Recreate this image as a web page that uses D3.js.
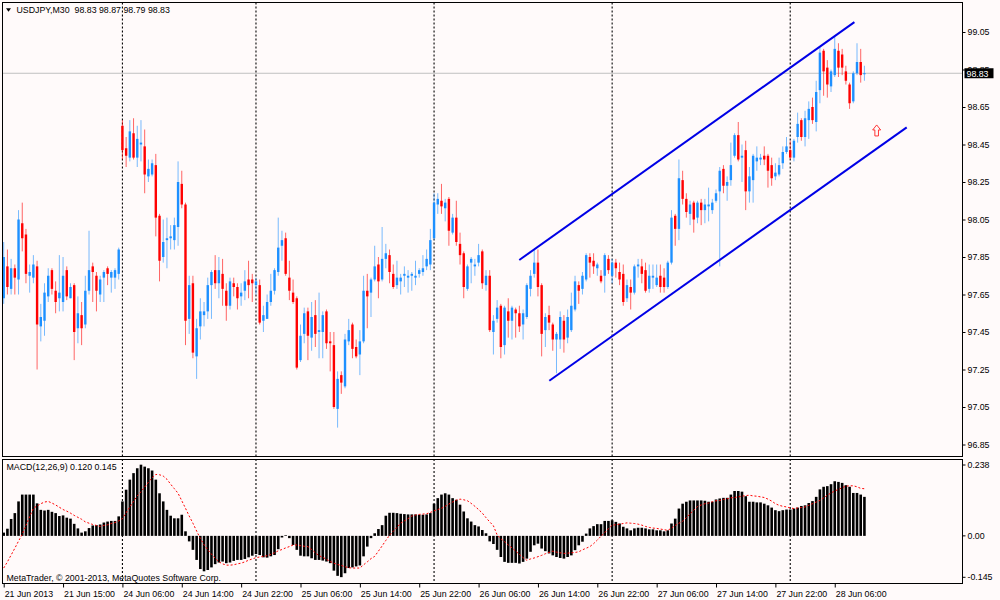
<!DOCTYPE html>
<html><head><meta charset="utf-8">
<script src="https://cdn.jsdelivr.net/npm/d3@7"></script>
<style>
html,body{margin:0;padding:0;background:#fffafa;}
svg{display:block;}
text{font-family:"Liberation Sans",Arial,sans-serif;font-size:8.8px;fill:#000;}
</style></head><body>
<svg id="c" width="1000" height="600"></svg>
<script>
// ---- data: [open, high, low, close] per M30 bar ----
const candles = [
[97.63,97.93,97.60,97.85],[97.80,97.89,97.65,97.69],[97.68,97.84,97.65,97.79],[97.79,97.81,97.65,97.74],
[97.73,98.10,97.65,98.05],[98.03,98.14,97.88,97.95],[97.97,98.00,97.71,97.76],[97.75,97.81,97.66,97.77],
[97.74,97.86,97.71,97.81],[97.80,97.83,97.25,97.49],[97.48,97.60,97.40,97.53],[97.51,97.71,97.43,97.66],
[97.64,97.79,97.61,97.75],[97.78,97.79,97.65,97.68],[97.67,97.72,97.55,97.61],[97.63,97.86,97.56,97.66],
[97.61,97.85,97.56,97.75],[97.78,97.80,97.62,97.64],[97.63,97.71,97.63,97.69],[97.70,97.71,97.30,97.45],
[97.47,97.64,97.39,97.55],[97.54,97.61,97.38,97.47],[97.49,97.75,97.47,97.67],[97.67,97.99,97.65,97.78],
[97.80,97.82,97.61,97.77],[97.75,97.77,97.56,97.67],[97.65,97.75,97.61,97.73],[97.74,97.78,97.61,97.77],
[97.79,97.80,97.70,97.76],[97.74,97.78,97.66,97.77],[97.74,97.79,97.68,97.78],[97.76,97.90,97.73,97.89],
[98.55,98.58,98.37,98.42],[98.43,98.49,98.33,98.39],[98.38,98.58,98.36,98.52],[98.51,98.59,98.37,98.38],
[98.38,98.55,98.33,98.48],[98.45,98.58,98.36,98.46],[98.44,98.53,98.19,98.29],[98.28,98.37,98.25,98.32],
[98.29,98.37,98.28,98.35],[98.34,98.40,97.96,98.06],[98.07,98.08,97.72,97.83],[97.85,98.05,97.82,97.93],
[97.94,98.06,97.79,97.95],[97.95,98.02,97.89,97.96],[97.94,98.06,97.89,98.02],[98.01,98.36,97.91,98.25],
[98.24,98.31,98.11,98.13],[98.13,98.14,97.38,97.51],[97.52,97.75,97.44,97.70],[97.71,97.75,97.31,97.34],
[97.32,97.52,97.20,97.47],[97.48,97.63,97.41,97.56],[97.54,97.61,97.48,97.56],[97.56,97.74,97.52,97.70],
[97.70,97.78,97.52,97.77],[97.78,97.86,97.68,97.71],[97.71,97.85,97.63,97.78],[97.76,97.84,97.59,97.68],
[97.67,97.71,97.51,97.59],[97.59,97.74,97.57,97.72],[97.71,97.74,97.64,97.69],[97.69,97.71,97.57,97.63],
[97.64,97.71,97.59,97.66],[97.67,97.78,97.62,97.72],[97.73,97.83,97.63,97.70],[97.73,97.76,97.61,97.71],
[97.70,97.74,97.65,97.72],[97.70,97.73,97.49,97.50],[97.51,97.59,97.45,97.54],[97.52,97.65,97.52,97.61],
[97.61,97.76,97.59,97.67],[97.67,97.79,97.65,97.78],[97.77,98.06,97.75,97.90],[97.91,97.99,97.83,97.94],
[97.95,97.98,97.75,97.76],[97.74,97.83,97.62,97.67],[97.66,97.73,97.60,97.61],[97.63,97.64,97.25,97.26],
[97.30,97.49,97.29,97.43],[97.44,97.58,97.39,97.55],[97.56,97.58,97.30,97.43],[97.42,97.61,97.35,97.53],
[97.54,97.62,97.37,97.44],[97.45,97.66,97.31,97.46],[97.45,97.56,97.31,97.54],[97.56,97.57,97.36,97.39],
[97.40,97.45,97.24,97.39],[97.38,97.45,97.04,97.05],[97.04,97.24,96.94,97.20],[97.22,97.24,97.12,97.18],
[97.16,97.44,97.15,97.41],[97.40,97.52,97.38,97.46],[97.49,97.50,97.31,97.36],[97.37,97.41,97.31,97.32],
[97.33,97.46,97.22,97.40],[97.40,97.75,97.39,97.67],[97.67,97.76,97.47,97.64],[97.66,97.74,97.53,97.73],
[97.73,97.91,97.72,97.80],[97.81,97.85,97.63,97.72],[97.73,98.01,97.72,97.84],[97.84,97.92,97.79,97.87],
[97.86,97.89,97.71,97.77],[97.76,97.81,97.68,97.69],[97.70,97.83,97.68,97.74],[97.72,97.76,97.65,97.74],
[97.75,97.80,97.69,97.76],[97.74,97.78,97.66,97.75],[97.75,97.77,97.67,97.76],[97.74,97.83,97.70,97.75],
[97.76,97.79,97.74,97.78],[97.77,97.86,97.75,97.79],[97.80,97.89,97.78,97.84],[97.81,98.00,97.78,97.94],
[97.95,98.19,97.94,98.14],[98.13,98.19,98.08,98.16],[98.15,98.24,98.08,98.12],[98.11,98.16,98.04,98.14],
[98.16,98.17,97.91,97.99],[97.98,98.08,97.97,98.06],[98.06,98.15,97.91,97.93],[97.92,97.98,97.81,97.86],
[97.87,97.88,97.63,97.69],[97.68,97.81,97.67,97.80],[97.82,97.85,97.71,97.84],[97.80,97.84,97.75,97.81],
[97.82,97.92,97.80,97.86],[97.88,97.89,97.68,97.71],[97.70,97.78,97.67,97.75],[97.75,97.78,97.45,97.46],
[97.45,97.54,97.33,97.51],[97.52,97.62,97.50,97.58],[97.59,97.60,97.31,97.37],[97.38,97.59,97.33,97.58],
[97.56,97.63,97.42,97.51],[97.51,97.59,97.41,97.58],[97.57,97.58,97.42,97.55],[97.55,97.59,97.45,97.48],
[97.49,97.57,97.41,97.55],[97.53,97.71,97.52,97.70],[97.68,97.78,97.64,97.75],[97.76,97.89,97.74,97.82],
[97.82,97.89,97.64,97.69],[97.70,97.71,97.32,97.44],[97.46,97.55,97.37,97.53],[97.54,97.59,97.46,97.50],
[97.49,97.50,97.35,97.41],[97.41,97.45,97.23,97.44],[97.41,97.56,97.36,97.53],[97.51,97.54,97.34,97.41],
[97.42,97.57,97.39,97.53],[97.46,97.66,97.45,97.59],[97.57,97.75,97.56,97.72],[97.70,97.72,97.60,97.67],
[97.68,97.77,97.65,97.75],[97.73,97.87,97.72,97.86],[97.85,97.87,97.74,97.82],[97.83,97.87,97.76,97.80],
[97.79,97.82,97.75,97.81],[97.75,97.78,97.71,97.72],[97.75,97.87,97.66,97.86],[97.84,97.86,97.76,97.78],
[97.75,97.84,97.71,97.82],[97.82,97.84,97.74,97.79],[97.77,97.82,97.70,97.73],[97.76,97.81,97.59,97.61],
[97.63,97.73,97.61,97.70],[97.69,97.73,97.57,97.66],[97.66,97.81,97.65,97.80],[97.80,97.84,97.74,97.81],
[97.80,97.84,97.71,97.76],[97.78,97.82,97.66,97.67],[97.68,97.81,97.66,97.75],[97.74,97.81,97.68,97.75],
[97.70,97.81,97.69,97.74],[97.75,97.81,97.66,97.69],[97.74,97.79,97.66,97.69],[97.69,97.83,97.68,97.82],
[97.82,98.10,97.81,98.06],[98.07,98.08,97.91,98.00],[98.00,98.37,97.94,98.27],[98.26,98.31,98.13,98.16],
[98.16,98.19,98.06,98.09],[98.08,98.15,98.02,98.13],[98.14,98.15,97.98,98.05],[98.06,98.15,98.03,98.14],
[98.14,98.16,98.02,98.10],[98.10,98.16,98.03,98.13],[98.12,98.22,98.04,98.13],[98.10,98.16,98.08,98.14],
[98.15,98.21,98.14,98.19],[98.20,98.33,97.80,98.31],[98.32,98.34,98.19,98.23],[98.23,98.28,98.15,98.25],
[98.26,98.46,98.23,98.34],[98.39,98.51,98.38,98.50],[98.50,98.57,98.36,98.37],[98.38,98.45,98.25,98.39],
[98.42,98.47,98.10,98.20],[98.20,98.33,98.14,98.28],[98.26,98.40,98.14,98.39],[98.36,98.44,98.31,98.38],
[98.37,98.40,98.34,98.38],[98.39,98.44,98.34,98.37],[98.39,98.40,98.22,98.31],[98.34,98.38,98.23,98.27],
[98.28,98.35,98.26,98.30],[98.29,98.38,98.28,98.34],[98.35,98.44,98.32,98.41],[98.41,98.49,98.40,98.44],
[98.42,98.47,98.37,98.38],[98.38,98.48,98.36,98.47],[98.49,98.62,98.46,98.56],[98.58,98.59,98.47,98.49],
[98.49,98.63,98.44,98.59],[98.58,98.68,98.48,98.64],[98.65,98.70,98.56,98.58],[98.57,98.79,98.52,98.73],
[98.74,98.97,98.67,98.94],[98.95,98.96,98.71,98.84],[98.86,98.90,98.70,98.77],[98.76,98.85,98.73,98.84],
[98.82,99.03,98.81,98.96],[98.95,98.99,98.81,98.86],[98.93,98.96,98.82,98.86],[98.84,98.87,98.77,98.79],
[98.77,98.78,98.64,98.67],[98.68,98.84,98.67,98.83],[98.83,98.99,98.82,98.89],[98.89,98.96,98.78,98.82],
[98.83,98.87,98.79,98.83]
];

const macdHist = [
0.010,0.022,0.052,0.070,0.106,0.127,0.127,0.127,0.127,0.100,0.080,0.078,0.080,0.074,0.070,0.061,
0.063,0.056,0.053,0.037,0.023,0.010,0.014,0.024,0.032,0.033,0.035,0.041,0.044,0.046,0.046,0.060,
0.106,0.142,0.173,0.193,0.208,0.219,0.213,0.208,0.201,0.173,0.131,0.106,0.080,0.062,0.054,0.054,
0.065,0.014,-0.017,-0.043,-0.074,-0.102,-0.109,-0.105,-0.097,-0.087,-0.082,-0.079,-0.084,-0.082,-0.077,-0.074,
-0.074,-0.071,-0.066,-0.061,-0.056,-0.059,-0.066,-0.067,-0.063,-0.059,-0.041,-0.005,0.002,-0.007,-0.028,-0.043,
-0.061,-0.063,-0.063,-0.069,-0.074,-0.074,-0.076,-0.079,-0.084,-0.107,-0.123,-0.127,-0.115,-0.099,-0.097,-0.094,
-0.091,-0.063,-0.033,-0.007,0.008,0.021,0.033,0.062,0.071,0.071,0.070,0.068,0.067,0.066,0.066,0.066,
0.065,0.065,0.066,0.070,0.099,0.116,0.127,0.131,0.127,0.116,0.111,0.096,0.075,0.054,0.044,0.033,
0.029,0.018,0.008,-0.017,-0.025,-0.043,-0.065,-0.080,-0.083,-0.083,-0.083,-0.085,-0.080,-0.070,-0.049,-0.029,
-0.024,-0.039,-0.047,-0.054,-0.060,-0.065,-0.068,-0.070,-0.065,-0.060,-0.044,-0.029,-0.018,0.007,0.023,0.030,
0.036,0.036,0.046,0.046,0.048,0.043,0.038,0.028,0.023,0.017,0.023,0.025,0.025,0.023,0.020,0.020,
0.017,0.017,0.014,0.017,0.038,0.053,0.084,0.099,0.105,0.109,0.109,0.109,0.109,0.108,0.105,0.105,
0.112,0.115,0.117,0.117,0.127,0.138,0.138,0.136,0.122,0.105,0.105,0.103,0.103,0.099,0.094,0.087,
0.079,0.076,0.079,0.081,0.081,0.084,0.087,0.092,0.094,0.101,0.107,0.120,0.143,0.151,0.153,0.159,
0.168,0.166,0.163,0.156,0.151,0.132,0.132,0.127,0.120
];

const macdSignal = [
-0.099,-0.080,-0.059,-0.038,-0.016,0.005,0.032,0.059,0.085,0.092,0.099,0.104,0.106,0.101,0.095,0.088,
0.081,0.076,0.070,0.063,0.057,0.051,0.043,0.039,0.035,0.032,0.029,0.032,0.034,0.038,0.041,0.046,
0.053,0.071,0.089,0.106,0.123,0.136,0.150,0.165,0.179,0.189,0.188,0.184,0.174,0.159,0.145,0.131,
0.108,0.085,0.061,0.039,0.015,-0.008,-0.027,-0.043,-0.056,-0.069,-0.080,-0.086,-0.090,-0.090,-0.089,-0.086,
-0.084,-0.080,-0.075,-0.071,-0.067,-0.065,-0.063,-0.061,-0.057,-0.052,-0.046,-0.042,-0.037,-0.033,-0.028,-0.028,
-0.030,-0.032,-0.033,-0.042,-0.052,-0.061,-0.066,-0.072,-0.079,-0.084,-0.088,-0.091,-0.095,-0.098,-0.099,-0.099,
-0.099,-0.089,-0.080,-0.070,-0.063,-0.047,-0.031,-0.014,0.002,0.014,0.026,0.039,0.046,0.053,0.061,0.064,
0.066,0.067,0.068,0.072,0.077,0.081,0.085,0.091,0.098,0.104,0.110,0.113,0.111,0.108,0.100,0.091,
0.081,0.070,0.056,0.043,0.031,0.003,-0.009,-0.018,-0.028,-0.037,-0.047,-0.057,-0.067,-0.075,-0.071,-0.068,
-0.064,-0.060,-0.055,-0.051,-0.047,-0.050,-0.052,-0.054,-0.053,-0.052,-0.051,-0.049,-0.043,-0.038,-0.033,-0.024,
-0.013,-0.001,0.010,0.022,0.033,0.034,0.036,0.038,0.040,0.039,0.038,0.036,0.033,0.029,0.026,0.024,
0.023,0.021,0.019,0.017,0.024,0.032,0.039,0.045,0.056,0.068,0.079,0.090,0.095,0.099,0.101,0.105,
0.108,0.109,0.112,0.114,0.117,0.118,0.120,0.122,0.124,0.125,0.123,0.122,0.120,0.118,0.113,0.107,
0.099,0.094,0.091,0.089,0.086,0.084,0.086,0.087,0.089,0.094,0.099,0.104,0.109,0.117,0.125,0.132,
0.138,0.143,0.148,0.153,0.154,0.154,0.151,0.146,0.145
];

const timeLabels = ["21 Jun 2013","21 Jun 15:00","24 Jun 06:00","24 Jun 14:00","24 Jun 22:00","25 Jun 06:00",
  "25 Jun 14:00","25 Jun 22:00","26 Jun 06:00","26 Jun 14:00","26 Jun 22:00","27 Jun 06:00","27 Jun 14:00",
  "27 Jun 22:00","28 Jun 06:00"];
const timeLabelBars = [0,16,32,48,64,80,96,112,128,144,160,176,192,208,224];
const separatorBars = [32,68,116,164,212];
const priceTicks = [99.05,98.85,98.65,98.45,98.25,98.05,97.85,97.65,97.45,97.25,97.05,96.85];
const macdTicks = [0.238,0.00,-0.145];
const macdTickLabels = ["0.238","0.00","-0.145"];
// channel lines: [bar, price, bar, price]
const channelUpper = [138.97,97.834,229.3,99.103];
const channelLower = [147.06,97.190,243.4,98.541];
const bidPrice = 98.83;
const arrowMark = [235.3,98.525];
const headerText = "USDJPY,M30  98.83 98.87 98.79 98.83";
const macdText = "MACD(12,26,9) 0.120 0.145";
const copyText = "MetaTrader, \u00A9 2001-2013, MetaQuotes Software Corp.";

// ---- layout ----
const svg = d3.select("#c");
const L = 2.5, R = 962.5, mainTop = 2.5, mainBot = 456.5, macdTop = 459, macdBot = 583.5;
const bg = "#fffafa", bull = "#1e90ff", bear = "#ff0000";

const n = candles.length;
const x = d3.scaleLinear().domain([0, n - 1]).range([3.7, 3.7 + 3.71 * (n - 1)]);
const y = d3.scaleLinear().domain([96.85, 99.05]).range([444.5, 32]);
const ym = d3.scaleLinear().domain([-0.145, 0.238]).range([583, 458.5]);

svg.append("rect").attr("width", 1000).attr("height", 600).attr("fill", bg);

const defs = svg.append("defs");
defs.append("clipPath").attr("id", "clipMain").append("rect")
  .attr("x", L).attr("y", mainTop).attr("width", R - L).attr("height", mainBot - mainTop);
defs.append("clipPath").attr("id", "clipMacd").append("rect")
  .attr("x", L).attr("y", macdTop).attr("width", R - L).attr("height", macdBot - macdTop);

const gMain = svg.append("g").attr("clip-path", "url(#clipMain)");
const gMacd = svg.append("g").attr("clip-path", "url(#clipMacd)");

// bid line
gMain.append("line").attr("x1", L).attr("x2", R).attr("y1", y(bidPrice)).attr("y2", y(bidPrice))
  .attr("stroke", "#c0c0c0").attr("stroke-width", 1);

// period separators
separatorBars.forEach(b => {
  [[mainTop, mainBot, gMain], [macdTop, macdBot, gMacd]].forEach(([a, z, g]) => {
    g.append("line").attr("x1", x(b)).attr("x2", x(b)).attr("y1", a).attr("y2", z)
      .attr("stroke", "#000").attr("stroke-width", 1.1).attr("stroke-dasharray", "2,2");
  });
});

// candles
const cg = gMain.append("g");
cg.selectAll("line.w").data(candles).join("line").attr("class", "w")
  .attr("x1", (d, i) => x(i)).attr("x2", (d, i) => x(i))
  .attr("y1", d => y(d[1])).attr("y2", d => y(d[2]))
  .attr("stroke", d => d[3] >= d[0] ? bull : bear).attr("stroke-width", 1).attr("stroke-opacity", 0.6);
cg.selectAll("rect.b").data(candles).join("rect").attr("class", "b")
  .attr("x", (d, i) => x(i) - 1.2).attr("width", 2.4)
  .attr("y", d => y(Math.max(d[0], d[3])))
  .attr("height", d => Math.max(1, Math.abs(y(d[0]) - y(d[3]))))
  .attr("fill", d => d[3] >= d[0] ? bull : bear);

// channel
[channelUpper, channelLower].forEach(c => {
  gMain.append("line").attr("x1", x(c[0])).attr("y1", y(c[1])).attr("x2", x(c[2])).attr("y2", y(c[3]))
    .attr("stroke", "#0000e6").attr("stroke-width", 2);
});

// arrow
gMain.append("path")
  .attr("transform", `translate(${x(arrowMark[0])},${y(arrowMark[1])})`)
  .attr("d", "M0,-5.5 L4,-0.5 L1.8,-0.5 L1.8,5.5 L-1.8,5.5 L-1.8,-0.5 L-4,-0.5 Z")
  .attr("fill", bg).attr("stroke", "#ff2020").attr("stroke-width", 0.9);

// MACD histogram
gMacd.selectAll("rect.h").data(macdHist).join("rect").attr("class", "h")
  .attr("x", (d, i) => x(i) - 1.3).attr("width", 2.6)
  .attr("y", d => Math.min(ym(d), ym(0)))
  .attr("height", d => Math.max(0.5, Math.abs(ym(d) - ym(0))))
  .attr("fill", "#000");
gMacd.append("path").datum(macdSignal)
  .attr("d", d3.line().x((d, i) => x(i)).y(d => ym(d)))
  .attr("fill", "none").attr("stroke", "#ff0000").attr("stroke-width", 1).attr("stroke-dasharray", "2,2");

// borders
svg.append("rect").attr("x", L).attr("y", mainTop).attr("width", R - L).attr("height", mainBot - mainTop)
  .attr("fill", "none").attr("stroke", "#000").attr("stroke-width", 1).attr("shape-rendering", "crispEdges");
svg.append("rect").attr("x", L).attr("y", macdTop).attr("width", R - L).attr("height", macdBot - macdTop)
  .attr("fill", "none").attr("stroke", "#000").attr("stroke-width", 1).attr("shape-rendering", "crispEdges");

// price axis
const pa = svg.append("g").attr("transform", `translate(${R},0)`)
  .call(d3.axisRight(y).tickValues(priceTicks).tickSize(3).tickPadding(2).tickFormat(d3.format(".2f")));
pa.select(".domain").remove();
pa.selectAll("line").attr("stroke", "#000");
pa.selectAll("text").style("font-family", "'Liberation Sans',Arial,sans-serif").style("font-size", "8.8px").attr("fill", "#000");

// bid label
const bg2 = svg.append("g");
bg2.append("rect").attr("x", 964.5).attr("y", y(bidPrice) - 5).attr("width", 29).attr("height", 10).attr("fill", "#000");
bg2.append("text").attr("x", 966.5).attr("y", y(bidPrice) + 3.3).text(d3.format(".2f")(bidPrice)).style("fill", "#fff");

// macd axis
const labelShift = [6.5, 0, -5.7];
const ma = svg.append("g").selectAll("g").data(macdTicks).join("g")
  .attr("transform", (d, i) => `translate(${R},${ym(d) + labelShift[i]})`);
ma.append("line").attr("x2", 3).attr("stroke", "#000");
ma.append("text").attr("x", 5).attr("dy", "0.32em").text((d, i) => macdTickLabels[i]);

// time axis
const ta = svg.append("g").attr("transform", `translate(0,${macdBot})`)
  .call(d3.axisBottom(x).tickValues(timeLabelBars).tickSize(4).tickPadding(3).tickFormat((d, i) => timeLabels[i]));
ta.select(".domain").remove();
ta.selectAll("line").attr("stroke", "#000");
ta.selectAll("text").attr("text-anchor", "start").attr("dx", "0.5")
  .style("font-family", "'Liberation Sans',Arial,sans-serif").style("font-size", "8.8px").attr("fill", "#000");

// header texts
svg.append("path").attr("d", "M6,8.3 L11,8.3 L8.5,11.8 Z").attr("fill", "#000");
svg.append("text").attr("x", 16.5).attr("y", 13.2).text(headerText).attr("xml:space", "preserve").style("white-space", "pre");
svg.append("text").attr("x", 6.5).attr("y", 469.8).text(macdText);
svg.append("text").attr("x", 6.5).attr("y", 580.5).text(copyText);
</script>
</body></html>
